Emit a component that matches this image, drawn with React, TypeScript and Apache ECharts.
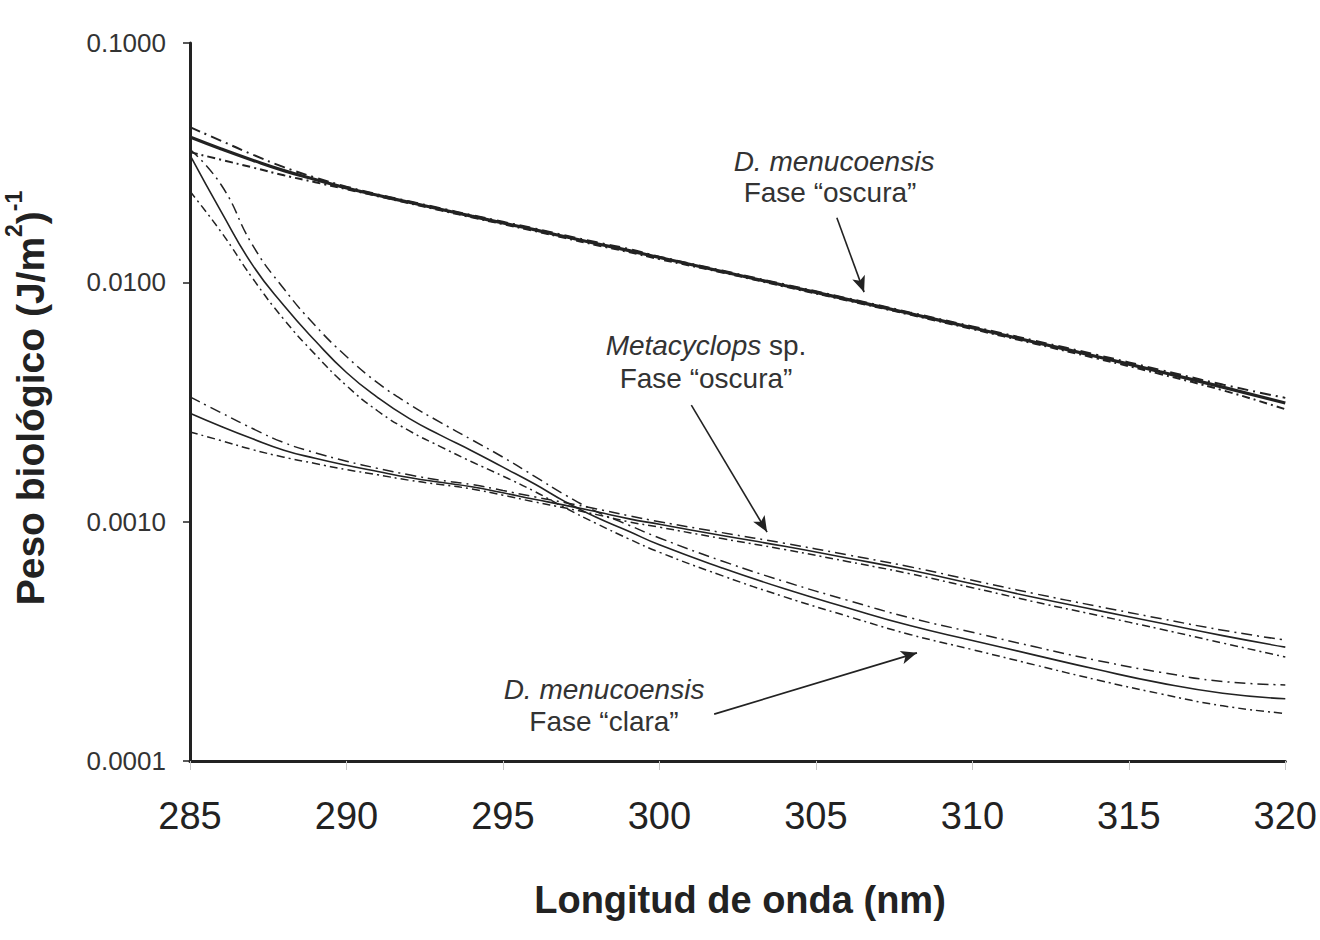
import React, { useEffect, useRef } from "react";
import * as echarts from "echarts";

const wavelengths = [285, 286, 287, 288, 289, 290, 291, 292, 293, 294, 295, 296, 297, 298, 299, 300, 302, 304, 306, 308, 310, 312, 314, 316, 318, 320];

// D. menucoensis, Fase "oscura"
const darkDmSolid = [0.0405, 0.0361, 0.0324, 0.0293, 0.0269, 0.0248, 0.0231, 0.0216, 0.0202, 0.0189, 0.0177, 0.0166, 0.0155, 0.0145, 0.0136, 0.0127, 0.0111, 0.0097, 0.00849, 0.00741, 0.00646, 0.00562, 0.00489, 0.00423, 0.00365, 0.00313];
const darkDmUpper = [0.0445, 0.039, 0.0342, 0.0303, 0.0274, 0.0251, 0.0233, 0.0218, 0.0204, 0.0191, 0.0179, 0.0168, 0.0157, 0.0147, 0.0138, 0.0128, 0.0112, 0.0098, 0.00858, 0.00749, 0.00654, 0.0057, 0.00497, 0.00431, 0.00374, 0.00329];
const darkDmLower = [0.035, 0.0325, 0.0302, 0.028, 0.0262, 0.0245, 0.0229, 0.0214, 0.02, 0.0187, 0.0175, 0.0164, 0.0153, 0.0143, 0.0134, 0.0125, 0.011, 0.0096, 0.0084, 0.00733, 0.00638, 0.00554, 0.0048, 0.00414, 0.00354, 0.00295];

// D. menucoensis, Fase "clara"
const lightDmSolid = [0.034, 0.0197, 0.0118, 0.008, 0.0057, 0.0042, 0.0033, 0.0027, 0.0023, 0.00198, 0.00169, 0.00144, 0.00121, 0.00104, 0.000914, 0.0008, 0.000641, 0.000524, 0.000437, 0.000368, 0.000319, 0.000277, 0.000241, 0.000212, 0.000192, 0.000182];
const lightDmUpper = [0.036, 0.0255, 0.0143, 0.0094, 0.0066, 0.0049, 0.0038, 0.0031, 0.0026, 0.0022, 0.00186, 0.00155, 0.00129, 0.0011, 0.00097, 0.000855, 0.000685, 0.000562, 0.00047, 0.000397, 0.000345, 0.0003, 0.000263, 0.000235, 0.000215, 0.000208];
const lightDmLower = [0.024, 0.0162, 0.0104, 0.007, 0.005, 0.0037, 0.0029, 0.0024, 0.00206, 0.00178, 0.00155, 0.00134, 0.00114, 0.00098, 0.00085, 0.000745, 0.000595, 0.000485, 0.000403, 0.000338, 0.000292, 0.000252, 0.000218, 0.000191, 0.00017, 0.000158];

// Metacyclops sp., Fase "oscura"
const metaSolid = [0.00284, 0.0025, 0.00222, 0.00199, 0.00184, 0.00172, 0.00162, 0.00153, 0.00146, 0.0014, 0.00132, 0.00124, 0.00117, 0.0011, 0.00103, 0.000975, 0.000875, 0.000789, 0.000705, 0.000628, 0.00055, 0.000482, 0.000426, 0.000377, 0.000334, 0.000299];
const metaUpper = [0.00332, 0.00285, 0.00245, 0.00214, 0.00194, 0.00179, 0.00167, 0.00157, 0.00149, 0.00143, 0.00135, 0.00127, 0.0012, 0.00113, 0.00106, 0.001, 0.0009, 0.000812, 0.000727, 0.000648, 0.000569, 0.0005, 0.000443, 0.000394, 0.000352, 0.00032];
const metaLower = [0.00237, 0.00218, 0.002, 0.00186, 0.00175, 0.00165, 0.00157, 0.00149, 0.00143, 0.00137, 0.00129, 0.00121, 0.00114, 0.00107, 0.001, 0.000948, 0.00085, 0.000765, 0.000682, 0.000606, 0.00053, 0.000462, 0.000406, 0.000356, 0.000311, 0.000272];

const xTicks = { min: 285, max: 320, interval: 5 };
const yTicks = { min: 0.0001, max: 0.1 };

// annotation arrows in data coordinates [x, y] start -> tip
const arrowDarkDm = [[305.67, 0.0186], [306.54, 0.0091]];
const arrowMeta = [[301.02, 0.00307], [303.44, 0.000905]];
const arrowLightDm = [[301.75, 0.000157], [308.23, 0.000283]];

const FONT = "'Liberation Sans', Arial, Helvetica, sans-serif";
const INK = "#222";

const DASH_DOT = [11, 5, 2, 5];
const DASH_DOT2 = [8, 4, 2, 4];

function pairs(vals: number[]) {
  return wavelengths.map((x, i) => [x, vals[i]]);
}

function lineSeries(name: string, vals: number[], kind: "solid" | "upper" | "lower", width: number, extra: any = {}) {
  const type = kind === "solid" ? "solid" : kind === "upper" ? DASH_DOT : DASH_DOT2;
  return {
    name,
    type: "line",
    data: pairs(vals),
    showSymbol: false,
    symbol: "none",
    smooth: 0.5,
    lineStyle: { color: INK, width, type },
    emphasis: { disabled: true },
    silent: true,
    z: kind === "solid" ? 3 : 2,
    ...extra,
  };
}

function arrowMark(a: number[][]) {
  return {
    silent: true,
    symbol: ["none", "arrow"],
    symbolSize: [10, 16],
    label: { show: false },
    lineStyle: { color: INK, width: 1.6, type: "solid" },
    data: [[{ coord: a[0] }, { coord: a[1] }]],
  };
}

export default function App() {
  const ref = useRef<HTMLDivElement>(null);

  useEffect(() => {
    if (!ref.current) return;
    const chart = echarts.init(ref.current, undefined, { renderer: "svg" });

    const option: any = {
      animation: false,
      backgroundColor: "#ffffff",
      textStyle: { fontFamily: FONT },
      grid: { left: 190, top: 43, right: 33, bottom: 179, containLabel: false },
      xAxis: {
        type: "value",
        min: xTicks.min,
        max: xTicks.max,
        interval: xTicks.interval,
        axisLine: { show: true, lineStyle: { color: INK, width: 3 } },
        axisTick: { show: true, length: 9, lineStyle: { color: "#c8c8c8", width: 1 } },
        axisLabel: { color: INK, fontSize: 38, margin: 36, fontFamily: FONT },
        splitLine: { show: false },
      },
      yAxis: {
        type: "log",
        logBase: 10,
        min: yTicks.min,
        max: yTicks.max,
        axisLine: { show: true, lineStyle: { color: INK, width: 3 } },
        axisTick: { show: true, length: 7, lineStyle: { color: INK, width: 1.5 } },
        axisLabel: {
          color: "#333",
          fontSize: 26,
          margin: 24,
          fontFamily: FONT,
          formatter: (v: number) => Number(v).toFixed(4),
        },
        splitLine: { show: false },
        minorTick: { show: false },
      },
      series: [
        lineSeries("Dm oscura", darkDmSolid, "solid", 3.2, { markLine: arrowMark(arrowDarkDm) }),
        lineSeries("Dm oscura sup", darkDmUpper, "upper", 2),
        lineSeries("Dm oscura inf", darkDmLower, "lower", 2),
        lineSeries("Dm clara", lightDmSolid, "solid", 1.6, { markLine: arrowMark(arrowLightDm) }),
        lineSeries("Dm clara sup", lightDmUpper, "upper", 1.5),
        lineSeries("Dm clara inf", lightDmLower, "lower", 1.5),
        lineSeries("Metacyclops", metaSolid, "solid", 1.6, { markLine: arrowMark(arrowMeta) }),
        lineSeries("Metacyclops sup", metaUpper, "upper", 1.5),
        lineSeries("Metacyclops inf", metaLower, "lower", 1.5),
      ],
      graphic: [
        {
          type: "text",
          x: 26,
          y: 398,
          rotation: Math.PI / 2,
          style: {
            text: "{a|Peso biológico (J/m}{s|2}{a|)}{s|-1}",
            align: "center",
            verticalAlign: "middle",
            fill: INK,
            rich: {
              a: { fontSize: 39, fontWeight: "bold", fontFamily: FONT, fill: INK, lineHeight: 48, verticalAlign: "bottom" },
              s: { fontSize: 23, fontWeight: "bold", fontFamily: FONT, fill: INK, lineHeight: 48, verticalAlign: "top" },
            },
          },
        },
        {
          type: "text",
          x: 740,
          y: 900,
          style: {
            text: "Longitud de onda (nm)",
            align: "center",
            verticalAlign: "middle",
            font: `bold 38px ${FONT}`,
            fill: INK,
          },
        },
        {
          type: "text",
          x: 834,
          y: 161,
          style: { text: "D. menucoensis", align: "center", verticalAlign: "middle", font: `italic 28px ${FONT}`, fill: "#333" },
        },
        {
          type: "text",
          x: 830,
          y: 192,
          style: { text: "Fase “oscura”", align: "center", verticalAlign: "middle", font: `28px ${FONT}`, fill: "#333" },
        },
        {
          type: "text",
          x: 706,
          y: 345,
          style: {
            text: "{i|Metacyclops}{n| sp.}",
            align: "center",
            verticalAlign: "middle",
            rich: {
              i: { fontSize: 28, fontStyle: "italic", fontFamily: FONT, fill: "#333" },
              n: { fontSize: 28, fontFamily: FONT, fill: "#333" },
            },
          },
        },
        {
          type: "text",
          x: 706,
          y: 378,
          style: { text: "Fase “oscura”", align: "center", verticalAlign: "middle", font: `28px ${FONT}`, fill: "#333" },
        },
        {
          type: "text",
          x: 604,
          y: 689,
          style: { text: "D. menucoensis", align: "center", verticalAlign: "middle", font: `italic 28px ${FONT}`, fill: "#333" },
        },
        {
          type: "text",
          x: 604,
          y: 721,
          style: { text: "Fase “clara”", align: "center", verticalAlign: "middle", font: `28px ${FONT}`, fill: "#333" },
        },
      ],
    };

    chart.setOption(option);
    return () => {
      chart.dispose();
    };
  }, []);

  return (
    <div
      ref={ref}
      style={{ position: "absolute", left: 0, top: 0, width: 1320, height: 940, background: "#fff" }}
    />
  );
}
